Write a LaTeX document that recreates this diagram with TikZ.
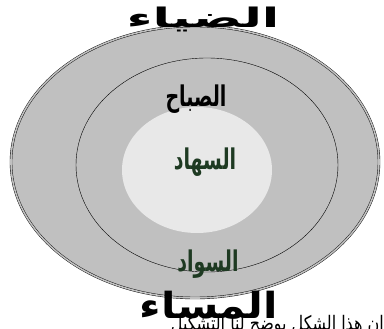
\documentclass[tikz,border=0pt]{standalone}
\usepackage{fontspec}
\usepackage{tikz}
\newfontfamily\arabicfont[Script=Arabic]{DejaVu Sans}
\TeXXeTstate=1
\definecolor{ringGray}{HTML}{C0C0C0}
\definecolor{coreGray}{HTML}{E8E8E8}
\definecolor{wordGreen}{HTML}{1E3A22}
\colorlet{ringLine}{black}

\begin{document}
\begin{tikzpicture}[x=1pt,y=-1pt,
  word/.style={font=\arabicfont\bfseries, inner sep=0pt},
  title/.style={word, font=\arabicfont\bfseries\fontsize{30}{30}\selectfont},
  label/.style={word, yscale=1.5, font=\arabicfont\bfseries\fontsize{19}{19}\selectfont}]
\useasboundingbox (0,0) rectangle (384,329);
\clip (0,0) rectangle (384,329);
\draw[ringLine,double=ringGray,double distance=1.6pt,fill=ringGray] (195,162) ellipse [x radius=184, y radius=136];
\draw[ringLine,fill=ringGray,thin] (207,165) ellipse [x radius=131, y radius=107];
\fill[coreGray] (197,170) ellipse [x radius=75, y radius=63];
\node[title,xscale=1.7,yscale=0.9] (light) at (203,19) {\beginR الضياء\endR};
\node[label] (morning) at (196,99) {\beginR الصباح\endR};
\node[label,text=wordGreen] (insomnia) at (205,162) {\beginR السهاد\endR};
\node[label,text=wordGreen] (darkness) at (208,264) {\beginR السواد\endR};
\node[title,xscale=1.4,yscale=1.2] (evening) at (209,305) {\beginR المساء\endR};
\node[word,xscale=0.8,font=\arabicfont\fontsize{20}{20}\selectfont,anchor=north east] (note) at (384,315) {\beginR ان هذا الشكل يوضح لنا التشكيل\endR};
\end{tikzpicture}
\end{document}
